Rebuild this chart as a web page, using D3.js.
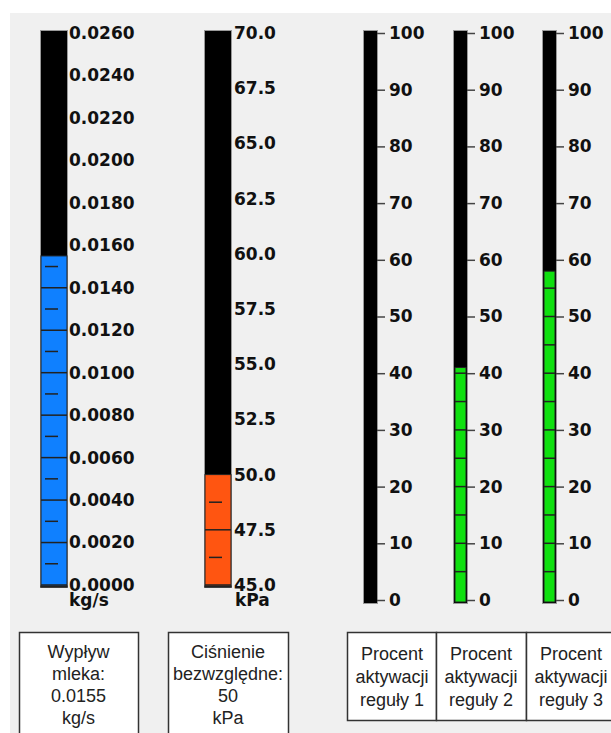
<!DOCTYPE html>
<html>
<head>
<meta charset="utf-8">
<script src="https://cdn.jsdelivr.net/npm/d3@7"></script>
<style>
  body { margin: 0; background: #fff; }
  .tick text { font-family: "DejaVu Sans", sans-serif; font-weight: bold; font-size: 17px; fill: #111; }
  .box text { font-family: "Liberation Sans", Arial, sans-serif; font-size: 18px; fill: #222; }
</style>
</head>
<body>
<div id="myVis"></div>
<script>

// big gauges: flow and pressure
const mainNames = ["Wypływ mleka", "Ciśnienie bezwzględne"]
const mainValues = [0.0155, 50]
const mainMin = [0, 45]
const mainMax = [0.026, 70]
const mainSteps = [0.002, 2.5]
const mainFormats = [".4f", ".1f"]
const mainUnits = ["kg/s", "kPa"]
const mainColors = ["#0f80ff", "#ff5511"]
const mainBoxText = [["Wypływ", "mleka:", "0.0155", "kg/s"], ["Ciśnienie", "bezwzględne:", "50", "kPa"]]

// small gauges: rule activation in percent
const ruleNames = ["reguły 1", "reguły 2", "reguły 3"]
const ruleValues = [0, 41, 58]
const ruleTicks = [0, 10, 20, 30, 40, 50, 60, 70, 80, 90, 100]

const W = 611, H = 733

const svg = d3.select("#myVis")
    .append("svg")
        .attr("width", W)
        .attr("height", H)

// grey panel
svg.append("rect")
    .attr("x", 10).attr("y", 13)
    .attr("width", W - 10).attr("height", H - 13)
    .attr("fill", "#f0f0f0")

// ---------- big gauges ----------
var mainX = [41, 205]
var barW = 26
var barTop = 31, barBottom = 587

mainValues.forEach(function(val, i) {
    var y = d3.scaleLinear()
        .domain([mainMin[i], mainMax[i]])
        .range([585, 33])

    var g = svg.append("g").attr("transform", "translate(" + mainX[i] + ",0)")

    g.append("rect")
        .attr("x", -0.5).attr("y", barTop - 0.5)
        .attr("width", barW + 1).attr("height", barBottom - barTop + 1)
        .attr("fill", "black")
        .attr("stroke", "#999")

    // filled part
    g.append("rect")
        .attr("x", 0).attr("y", y(val))
        .attr("width", barW).attr("height", barBottom - y(val))
        .attr("fill", mainColors[i])
        .attr("stroke", "#222")

    var step = mainSteps[i]
    var major = d3.range(0, Math.round((mainMax[i] - mainMin[i]) / step) + 1).map(k => mainMin[i] + k * step)
    var minor = major.slice(0, -1).map(v => v + step / 2)

    // segment lines and dashes inside the fill
    g.selectAll(".seg")
        .data(major.filter(v => y(v) > y(val) + 1 && y(v) < barBottom - 1))
        .enter().append("line")
            .attr("x1", 0).attr("x2", barW)
            .attr("y1", d => y(d)).attr("y2", d => y(d))
            .attr("stroke", "#222").attr("stroke-width", 1.5)

    g.selectAll(".dash")
        .data(minor.filter(v => y(v) > y(val) + 1))
        .enter().append("line")
            .attr("x1", 4).attr("x2", 17)
            .attr("y1", d => y(d)).attr("y2", d => y(d))
            .attr("stroke", "#222").attr("stroke-width", 1.5)

    g.append("rect")
        .attr("x", -0.5).attr("y", barBottom - 1.5)
        .attr("width", barW + 1).attr("height", 2)
        .attr("fill", "#222")

    var axis = g.append("g")
        .attr("transform", "translate(" + barW + ",0)")
        .call(d3.axisRight(y).tickValues(major).tickSize(0).tickPadding(i == 0 ? 2 : 3).tickFormat(d3.format(mainFormats[i])))
    axis.select(".domain").remove()

    g.append("text")
        .attr("x", barW + (i == 0 ? 2 : 4))
        .attr("y", 606)
        .attr("font-family", "DejaVu Sans")
        .attr("font-weight", "bold")
        .attr("font-size", "17px")
        .attr("fill", "#111")
        .text(mainUnits[i])
})

// ---------- rule gauges ----------
var ruleX = [364, 454, 543]
var rW = 13
var ry = d3.scaleLinear().domain([0, 100]).range([600, 33])

ruleValues.forEach(function(val, i) {
    var g = svg.append("g").attr("transform", "translate(" + ruleX[i] + ",0)")

    g.append("rect")
        .attr("x", -0.5).attr("y", 30.5)
        .attr("width", rW + 1).attr("height", 603 - 30)
        .attr("fill", "black")
        .attr("stroke", "#999")

    if (val > 0) {
        g.append("rect")
            .attr("x", 1).attr("y", ry(val))
            .attr("width", rW - 2).attr("height", 602 - ry(val))
            .attr("fill", "#10e010")
            .attr("stroke", "#222")

        g.selectAll(".seg")
            .data(d3.range(5, val, 5))
            .enter().append("line")
                .attr("x1", 1).attr("x2", rW - 1)
                .attr("y1", d => ry(d)).attr("y2", d => ry(d))
                .attr("stroke", "#222").attr("stroke-width", 1.5)
    }

    var axis = g.append("g")
        .attr("transform", "translate(" + rW + ",0)")
        .call(d3.axisRight(ry).tickValues(ruleTicks).tickSize(8).tickPadding(4))
    axis.select(".domain").remove()
    axis.selectAll(".tick line").attr("stroke", "#444").attr("stroke-width", 1.5)
})

// ---------- label boxes ----------
var boxes = svg.append("g").attr("class", "box")

var mainBoxX = [19, 168], mainBoxW = [119, 120]
mainBoxText.forEach(function(lines, i) {
    boxes.append("rect")
        .attr("x", mainBoxX[i] + 0.5).attr("y", 632.5)
        .attr("width", mainBoxW[i]).attr("height", 120)
        .attr("fill", "white").attr("stroke", "#333").attr("stroke-width", 1.5)
    boxes.selectAll(".l" + i)
        .data(lines)
        .enter().append("text")
            .attr("x", mainBoxX[i] + mainBoxW[i] / 2)
            .attr("y", (d, k) => 658 + k * 22)
            .attr("text-anchor", "middle")
            .text(d => d)
})

var ruleBoxX = [347, 436, 526], ruleBoxW = 89
ruleNames.forEach(function(name, i) {
    boxes.append("rect")
        .attr("x", ruleBoxX[i] + 0.5).attr("y", 632.5)
        .attr("width", i == 2 ? 95 : ruleBoxW + (i == 1 ? 1 : 0)).attr("height", 88)
        .attr("fill", "white").attr("stroke", "#333").attr("stroke-width", 1.5)
    var lines = ["Procent", "aktywacji", name]
    boxes.selectAll(".r" + i)
        .data(lines)
        .enter().append("text")
            .attr("x", ruleBoxX[i] + 45)
            .attr("y", (d, k) => 660 + k * 23)
            .attr("text-anchor", "middle")
            .text(d => d)
})

</script>
</body>
</html>
